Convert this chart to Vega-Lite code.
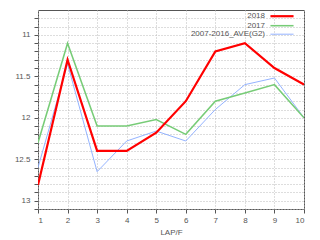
{
  "$schema": "https://vega.github.io/schema/vega-lite/v6.json",
  "width": 266,
  "height": 199,
  "autosize": "none",
  "padding": {"left": 38, "top": 10, "right": 16, "bottom": 31},
  "background": "white",
  "config": {
    "font": "Liberation Sans",
    "view": {"stroke": "#555555", "strokeWidth": 1},
    "axis": {
      "labelColor": "#555555",
      "labelFontSize": 8,
      "titleColor": "#555555",
      "titleFontSize": 8,
      "titleFontWeight": "normal",
      "gridColor": "#bbbbbb",
      "gridDash": [1, 2],
      "gridWidth": 1,
      "tickColor": "#555555",
      "domain": false
    }
  },
  "data": {
    "values": [
      {"lap": 1, "series": "2007-2016_AVE(G2)", "time": 12.6},
      {"lap": 2, "series": "2007-2016_AVE(G2)", "time": 11.35},
      {"lap": 3, "series": "2007-2016_AVE(G2)", "time": 12.65},
      {"lap": 4, "series": "2007-2016_AVE(G2)", "time": 12.28},
      {"lap": 5, "series": "2007-2016_AVE(G2)", "time": 12.16},
      {"lap": 6, "series": "2007-2016_AVE(G2)", "time": 12.28},
      {"lap": 7, "series": "2007-2016_AVE(G2)", "time": 11.9},
      {"lap": 8, "series": "2007-2016_AVE(G2)", "time": 11.6},
      {"lap": 9, "series": "2007-2016_AVE(G2)", "time": 11.52},
      {"lap": 10, "series": "2007-2016_AVE(G2)", "time": 12.0},
      {"lap": 1, "series": "2017", "time": 12.3},
      {"lap": 2, "series": "2017", "time": 11.1},
      {"lap": 3, "series": "2017", "time": 12.1},
      {"lap": 4, "series": "2017", "time": 12.1},
      {"lap": 5, "series": "2017", "time": 12.02},
      {"lap": 6, "series": "2017", "time": 12.2},
      {"lap": 7, "series": "2017", "time": 11.8},
      {"lap": 8, "series": "2017", "time": 11.7},
      {"lap": 9, "series": "2017", "time": 11.6},
      {"lap": 10, "series": "2017", "time": 12.0},
      {"lap": 1, "series": "2018", "time": 12.81},
      {"lap": 2, "series": "2018", "time": 11.3},
      {"lap": 3, "series": "2018", "time": 12.4},
      {"lap": 4, "series": "2018", "time": 12.4},
      {"lap": 5, "series": "2018", "time": 12.18},
      {"lap": 6, "series": "2018", "time": 11.8},
      {"lap": 7, "series": "2018", "time": 11.2},
      {"lap": 8, "series": "2018", "time": 11.1},
      {"lap": 9, "series": "2018", "time": 11.4},
      {"lap": 10, "series": "2018", "time": 11.6}
    ]
  },
  "mark": {"type": "line", "clip": true},
  "encoding": {
    "x": {
      "field": "lap",
      "type": "quantitative",
      "scale": {"domain": [1, 10], "nice": false},
      "axis": {
        "title": "LAP/F",
        "values": [1, 2, 3, 4, 5, 6, 7, 8, 9, 10],
        "tickSize": 4,
        "labelPadding": 3,
        "titlePadding": 4
      }
    },
    "y": {
      "field": "time",
      "type": "quantitative",
      "scale": {"domain": [10.7, 13.1], "reverse": true, "nice": false, "zero": false},
      "axis": {
        "title": null,
        "values": [10.8, 10.9, 11, 11.1, 11.2, 11.3, 11.4, 11.5, 11.6, 11.7, 11.8, 11.9, 12, 12.1, 12.2, 12.3, 12.4, 12.5, 12.6, 12.7, 12.8, 12.9, 13, 13.1],
        "labelExpr": "abs(datum.value * 2 - round(datum.value * 2)) < 0.001 ? format(datum.value, '~g') : ''",
        "tickSize": 4,
        "labelPadding": 4
      }
    },
    "color": {
      "field": "series",
      "type": "nominal",
      "scale": {
        "domain": ["2018", "2017", "2007-2016_AVE(G2)"],
        "range": ["#ff0000", "#77cc77", "#88aaff"]
      },
      "legend": {
        "title": null,
        "orient": "none",
        "legendX": 239,
        "legendY": 1.2,
        "padding": 0,
        "symbolType": "M-3.3,0H3.3",
        "symbolSize": 49,
        "symbolStrokeWidth": 1.2,
        "labelAlign": "right",
        "labelOffset": -22,
        "labelFontSize": 8,
        "labelColor": "#555555",
        "rowPadding": 0,
        "symbolOffset": 0
      }
    },
    "strokeWidth": {
      "field": "series",
      "type": "nominal",
      "scale": {
        "domain": ["2018", "2017", "2007-2016_AVE(G2)"],
        "range": [2.2, 0.9, 0.9]
      },
      "legend": null
    }
  }
}
